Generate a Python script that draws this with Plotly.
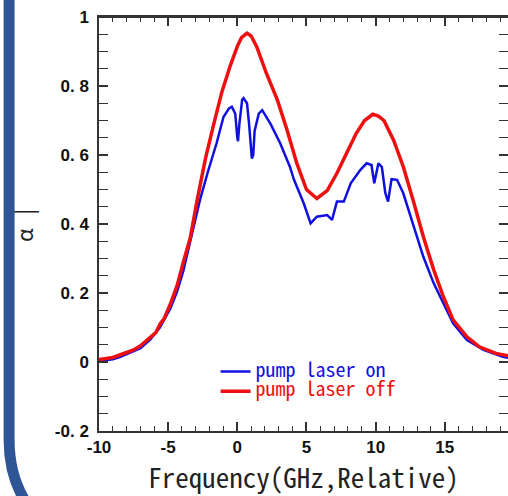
import plotly.graph_objects as go

# pump laser off (red)
freq_off = [-10.0, -9.0, -8.45, -7.5, -7.0, -6.3, -5.9, -5.56, -5.3, -4.84, -4.35, -3.9,
            -3.4, -2.9, -2.3, -1.7, -1.1, -0.5, 0.0, 0.3, 0.7, 1.0, 1.4, 2.1, 2.9, 3.6,
            4.3, 5.0, 5.75, 6.5, 7.2, 7.9, 8.6, 9.2, 9.8, 10.2, 10.6, 11.3, 12.0, 12.7,
            13.45, 14.2, 14.9, 15.6, 16.6, 17.5, 18.7, 19.6]
alpha_off = [0.007, 0.013, 0.021, 0.035, 0.047, 0.07, 0.085, 0.112, 0.125, 0.168, 0.222, 0.29,
             0.36, 0.47, 0.59, 0.69, 0.785, 0.86, 0.915, 0.94, 0.953, 0.945, 0.914, 0.837, 0.759, 0.672,
             0.576, 0.50, 0.474, 0.497, 0.547, 0.605, 0.663, 0.70, 0.718, 0.713, 0.70, 0.643, 0.566, 0.47,
             0.363, 0.267, 0.189, 0.122, 0.073, 0.044, 0.025, 0.018]

# pump laser on (blue)
freq_on = [-10.0, -9.0, -8.45, -7.5, -7.0, -6.3, -5.6, -4.84, -4.35, -3.9, -3.2, -2.7, -2.1,
           -1.5, -1.0, -0.6, -0.4, -0.15, 0.0, 0.05, 0.15, 0.35, 0.45, 0.7, 0.85, 1.05, 1.15,
           1.25, 1.55, 1.8, 2.4, 3.1, 3.8, 4.1, 4.8, 5.3, 5.75, 6.5, 6.85, 7.2, 7.7, 8.2, 8.9,
           9.35, 9.7, 9.9, 10.2, 10.45, 10.7, 10.9, 11.15, 11.55, 12.0, 12.7, 13.45, 14.2,
           14.9, 15.6, 16.6, 17.8, 19.2, 19.6]
alpha_on = [0.003, 0.008, 0.015, 0.03, 0.04, 0.065, 0.1, 0.155, 0.205, 0.265, 0.38, 0.47, 0.555,
            0.634, 0.71, 0.735, 0.74, 0.72, 0.65, 0.64, 0.69, 0.76, 0.765, 0.75, 0.69, 0.59, 0.60,
            0.67, 0.72, 0.73, 0.69, 0.634, 0.566, 0.528, 0.46, 0.402, 0.421, 0.426, 0.412, 0.465, 0.465, 0.518, 0.557,
            0.576, 0.571, 0.518, 0.576, 0.565, 0.49, 0.465, 0.53, 0.528, 0.489, 0.402, 0.305, 0.228,
            0.17, 0.112, 0.064, 0.035, 0.015, 0.012]

# tick labels as printed on the original (plotly's own label -> printed text)
x_tick_plotly = ["\u221210", "\u22125"]
x_tick_labels = ["-10", "-5"]
y_tick_plotly = ["\u22120.2", "0", "0.2", "0.4", "0.6", "0.8", "1"]
y_tick_labels = ["-0. 2", "0", "0. 2", "0. 4", "0. 6", "0. 8", "1"]

X_RANGE = [-10, 19.57]
Y_RANGE = [-0.2, 1.0]

BLUE = "#1010e0"
RED = "#ee1010"
FRAME = "#2f5597"
AXIS = "#333333"
MONO = "Noto Sans Mono CJK JP, Liberation Mono, monospace"

fig = go.Figure()
fig.add_trace(go.Scatter(
    x=freq_on, y=alpha_on, mode="lines",
    line=dict(color=BLUE, width=2.5),
    name=f"<span style='color:{BLUE};font-size:20px'>pump laser on</span>",
))
# the red curve sits on the top frame axis (same range), so it is drawn above the blue one
fig.add_trace(go.Scatter(
    x=freq_off, y=alpha_off, mode="lines", xaxis="x2",
    line=dict(color=RED, width=3.5),
    name=f"<span style='color:{RED};font-size:20px'>pump laser off</span>",
))

tick_font = dict(family="Liberation Sans Narrow, Liberation Sans, Arial, sans-serif",
                 size=17, color="#111111", weight="bold")
major = dict(ticks="inside", ticklen=9, tickwidth=1.5, tickcolor=AXIS)
x_minor = dict(dtick=1, ticks="inside", ticklen=5, tickwidth=1.2, tickcolor=AXIS)
y_minor = dict(dtick=0.05, ticks="inside", ticklen=5, tickwidth=1.2, tickcolor=AXIS)
frame_line = dict(showline=True, linecolor=AXIS, linewidth=2, showgrid=False, zeroline=False,
                  automargin=False)

fig.update_layout(
    template="none",
    width=508, height=496,
    margin=dict(l=98.5, r=0, t=17, b=65),
    paper_bgcolor="white",
    plot_bgcolor="white",
    showlegend=True,
    legend=dict(
        x=0.285, y=0.18, xanchor="left", yanchor="top",
        bgcolor="rgba(0,0,0,0)",
        font=dict(family=MONO, size=13),
        tracegroupgap=0,
    ),
    xaxis=dict(
        range=X_RANGE, dtick=5,
        labelalias=dict(zip(x_tick_plotly, x_tick_labels)),
        **major, minor=x_minor, **frame_line,
        tickfont=tick_font,
        title=dict(text="Frequency(GHz,Relative)", standoff=10,
                   font=dict(family=MONO, size=27, color="#222222")),
    ),
    xaxis2=dict(
        overlaying="x", matches="x", anchor="y", side="top",
        range=X_RANGE, dtick=5, showticklabels=False,
        **major, minor=x_minor, **frame_line,
    ),
    yaxis=dict(
        range=Y_RANGE, dtick=0.2,
        labelalias={k: v + "\u00a0" for k, v in zip(y_tick_plotly, y_tick_labels)},
        **major, minor=y_minor, **frame_line, mirror="allticks",
        tickfont=tick_font,
        title=dict(text="α |", standoff=15,
                   font=dict(family=MONO, size=22, color="#222222")),
    ),
    shapes=[
        # rounded blue frame of the slide, running off the left/bottom edge
        dict(type="path", xref="paper", yref="paper",
             path="M -0.2198,1.06 L -0.2198,-0.0217 Q -0.2198,-0.157 -0.1184,-0.239",
             line=dict(color=FRAME, width=11)),
        # top border of the plot box
        dict(type="line", xref="paper", yref="paper", x0=0, x1=1, y0=1, y1=1,
             line=dict(color=AXIS, width=2)),
    ],
)

# the page body has a default 8px margin; drop it so the figure sits at the corner
fig.write_html("out.html", config={"displayModeBar": False},
               post_script="document.body.style.margin='0';")
